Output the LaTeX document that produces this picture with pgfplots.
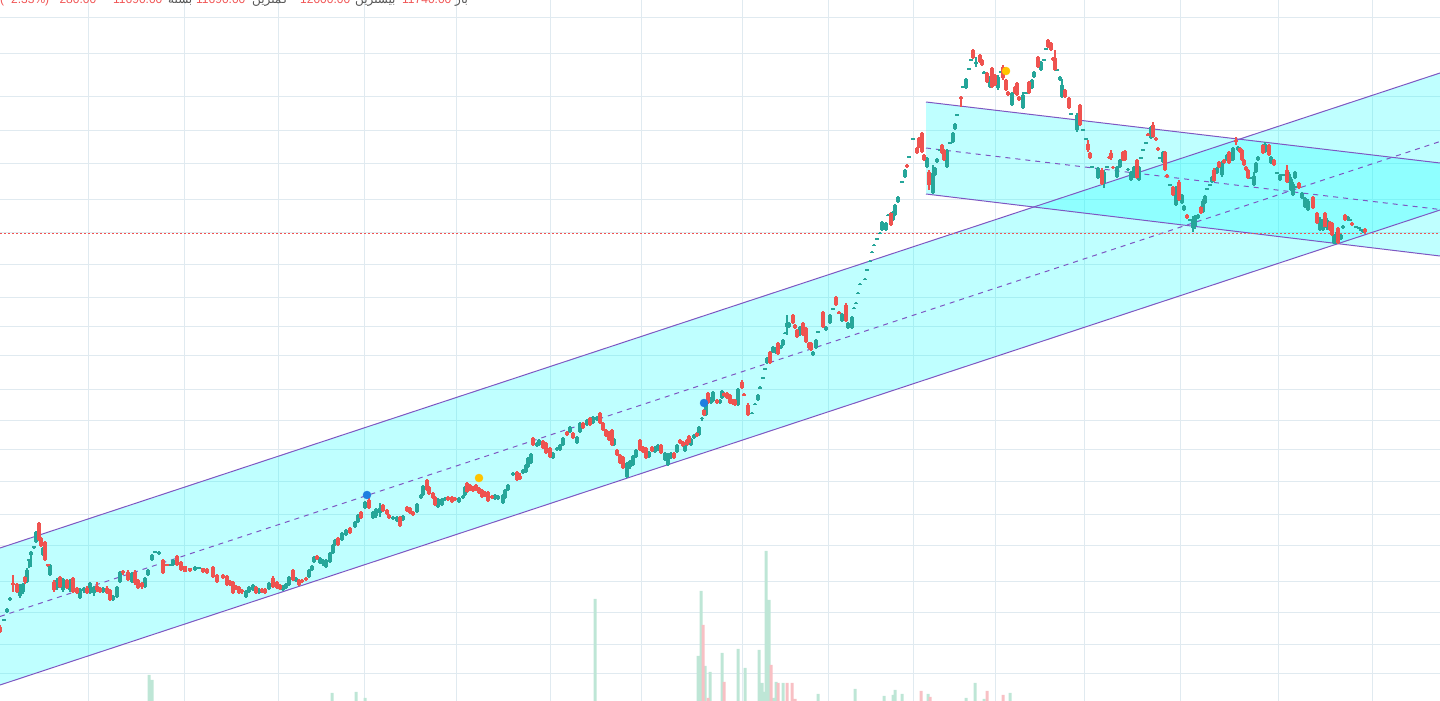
\documentclass[border=0pt]{standalone}
\usepackage{fontspec}
\usepackage{pgfplots}
\usepackage{pgfplotstable}
\pgfplotsset{compat=1.18}
\setmainfont{Liberation Sans}
\newfontfamily\fa[Script=Arabic]{DejaVu Sans}
\TeXXeTstate=1
\definecolor{upc}{RGB}{38,166,154}
\definecolor{dnc}{RGB}{239,83,80}
\definecolor{chan}{RGB}{126,87,194}
\definecolor{chfill}{RGB}{0,255,255}
\definecolor{gridc}{RGB}{224,234,240}
\definecolor{volup}{RGB}{190,230,214}
\definecolor{voldn}{RGB}{248,192,196}
\definecolor{dotblue}{RGB}{30,127,224}
\definecolor{dotyel}{RGB}{255,196,0}
\definecolor{txtred}{RGB}{240,84,84}
\definecolor{txtgray}{RGB}{85,85,85}

% candles: pixel coordinates (y measured downward)
\pgfplotstableread{
x o h l c
0 627 625 633 632
4 621 619 621 619
7 612 608 613 609
10 600 597 601 598
13 583 575 592 585
17 584 583 593 592
20 596 584 598 585
23 592 583 594 584
25 577 576 584 582
27 582 568 583 570
29 561 559 568 559
31 555 551 567 552
34 548 546 549 546
36 542 531 543 532
39 523 522 541 540
41 538 537 547 546
43 555 547 556 548
45 542 541 561 560
48 564 564 567 566
50 575 564 576 565
54 582 580 592 590
57 588 578 590 580
60 577 576 588 587
63 590 578 592 579
67 580 579 589 588
70 590 579 592 580
73 578 577 593 592
77 588 587 594 593
80 598 588 599 589
84 591 587 593 588
87 588 586 594 593
90 593 582 594 583
94 593 586 596 587
97 586 582 592 590
100 588 587 593 592
103 592 587 593 588
107 588 586 594 593
110 590 589 601 600
113 600 595 601 596
117 597 586 598 587
120 582 571 583 572
123 571 570 575 573
128 572 570 581 580
132 582 572 583 573
135 572 570 585 583
138 580 579 589 588
142 583 582 589 587
145 587 577 588 578
148 575 569 576 570
152 560 554 561 555
155 553 551 553 551
159 554 551 555 552
163 560 559 574 573
167 564 564 566 566
170 566 564 566 564
173 565 559 566 560
177 556 555 566 565
181 562 561 571 570
185 566 566 572 572
190 568 568 572 571
195 570 566 571 567
199 569 567 569 567
203 568 568 573 572
207 569 568 574 573
213 567 566 578 577
217 575 574 583 582
223 575 574 579 578
227 576 575 586 585
230 581 580 586 585
233 582 581 594 593
236 586 585 590 589
239 587 586 594 593
242 590 589 594 592
246 597 590 598 591
249 592 586 593 587
253 590 584 591 585
256 587 586 594 593
259 593 588 594 589
262 589 588 593 592
265 589 588 594 593
269 589 582 590 583
273 578 576 588 587
277 582 581 589 588
280 585 584 590 589
283 590 585 591 586
286 588 583 589 584
289 585 576 586 577
293 570 569 581 580
296 581 577 582 578
299 580 579 586 585
302 580 579 583 582
306 578 577 581 580
309 577 569 578 570
312 570 565 571 566
314 562 556 563 557
317 556 555 560 559
320 563 557 564 558
323 564 559 566 560
326 567 559 568 560
330 562 552 563 553
333 553 544 554 545
335 545 539 546 540
338 538 537 546 545
342 540 532 541 533
346 535 529 536 530
350 528 527 534 533
355 527 521 528 522
358 522 514 523 515
361 512 511 519 518
365 508 501 509 502
369 500 497 509 508
373 518 511 519 512
376 516 508 518 509
380 513 503 517 508
383 505 504 512 511
387 510 509 515 514
389 515 514 519 518
393 519 516 520 517
397 521 516 522 517
400 517 516 527 526
403 520 515 521 516
407 507 506 512 511
410 508 507 514 513
413 512 511 516 515
417 512 503 513 504
421 498 494 499 495
423 495 485 496 486
427 480 479 491 490
429 487 486 495 494
433 493 492 499 498
435 497 496 506 505
438 507 498 508 499
442 505 498 506 499
445 500 497 501 498
448 497 496 501 500
452 497 496 503 502
455 498 497 501 500
459 502 497 503 498
463 498 495 499 496
465 495 486 496 487
467 483 482 493 492
470 485 484 491 490
473 487 486 492 491
476 485 484 491 490
479 488 487 494 493
482 490 489 498 497
485 492 491 497 496
488 492 491 502 501
492 496 495 499 498
495 499 494 500 495
498 499 495 500 496
503 503 494 504 495
505 498 489 499 490
508 490 484 491 485
513 475 472 476 473
517 472 471 481 480
520 476 473 480 479
523 473 469 474 470
526 472 464 473 465
528 467 457 468 458
531 463 453 464 454
533 438 437 446 445
537 446 442 447 443
539 445 439 446 440
543 441 440 449 448
546 443 442 454 453
550 448 447 458 457
553 458 452 459 453
557 450 447 451 448
560 450 444 451 445
563 445 437 446 438
567 432 431 436 435
570 432 426 433 427
573 433 432 439 438
577 443 436 444 437
580 432 422 433 423
583 423 422 429 428
587 425 419 426 420
590 418 417 426 425
593 423 416 424 417
597 420 416 421 417
600 413 412 424 423
603 423 422 431 430
606 430 429 437 436
609 432 431 441 440
612 430 429 446 445
614 445 438 446 439
617 450 449 456 455
620 455 454 464 463
623 457 456 469 468
627 477 462 478 463
630 467 460 469 461
633 465 455 466 456
636 457 449 458 450
640 440 439 451 450
643 447 446 453 452
646 448 447 459 458
649 457 451 458 452
652 447 446 452 451
655 452 446 453 447
658 450 444 451 445
661 445 444 454 453
665 460 452 461 453
668 465 453 466 454
671 458 452 459 453
674 453 452 459 458
677 452 444 453 445
680 440 439 444 443
683 442 441 447 446
685 451 443 452 444
687 440 439 446 445
689 436 435 444 443
691 445 438 446 439
694 438 434 439 435
697 433 432 437 436
699 435 426 436 427
702 419 417 421 417.5
704 410 409 416 415
706 415 403 416 404
708 393 392 404 403
711 403 397 404 398
713 401 391 402 392
717 400 399 404 403
720 403 399 404 400
722 398 390 399 391
724 393 392 397 396
727 393 392 399 398
730 395 394 404 403
733 400 399 405 404
735 400 399 406 405
738 405 388 406 389
742 382 380 389 388
744 394 393 396 395.5
748 405 403 416 415
752 414 412 414 412.5
755 405 403 405 403.5
758 400 394 401 395
760 388.5 386 389 387
763 378.5 377 379 377
765 369.5 368 370 368
767 363 357 364 358
770 352 351 364 363
773 352 346 353 347
776 353 347 354 348
778 343 342 355 354
781 348 345 349 346
783 345 339 346 340
785 334 332 334 332.5
787 327 315 335 323
789 327 322 328 323
793 315 314 324 323
795 325 324 329 328
797 330 329 338 337
800 335 326 336 327
803 323 322 336 335
806 328 327 343 342
809 343 342 349 348
811 343 342 351 350
813 355 351 356 352
816 348 339 349 340
818 332.5 331 333 331
823 312 311 328 327
826 330 326 331 327
830 323 314 324 315
833 309.5 308 310 308
836 297 296 306 305
839 312 311 314 313
842 321 313 322 314
846 305 303 322 321
848 328 322 329 323
852 328 316 329 317
854 309 307 309 307.5
856 304 302 304 302.5
858 294 292 294 292.5
860 285 283 285 283.5
865 280 278 280 278.5
867 270.5 269 271 269
870 262 260 262 260.5
872 253 251 253 251.5
874 246 244 246 244.5
877 239.5 238 240 238
880 234 232 234 232.5
882 230 221 231 222
886 230 222 231 223
888 216 214 216 214.5
891 213 212 226 225
893 220 211 221 212
895 215 204 216 205
898 202 196 203 197
902 182.5 181 183 181
905 177 169 178 170
907 165 164 168 167
909 157.5 156 158 156
913 139.5 138 140 138
917 148 147 154 153
919 138 137 148 147
922 133 132 153 152
924 155 154 161 160
927 167 157 168 158
929 172 170 190 185
933 193 165 194 173
935 175 167 176 168
937 162 158 163 159
940 150.5 149 151 149
942 145 144 154 153
944 150 149 161 160
947 167 149 168 150
950 143.5 142 144 142
953 142 132 143 133
955 129 123 130 124
957 115.5 114 116 114
961 97 96 107 98.5
963 87.5 86 88 86
966 88 78 89 79
969 69.5 68 70 68
971 60.5 59 61 59
973 50 49 59 58
976 63.5 57 67 62
980 55 54 63 62
982 60 59 66 65
984 73.5 71 74 72
987 73 72 83 82
990 87 76 88 77
992 68 67 88 87
995 75 74 86 85
998 88 75 90 77
1001 72.5 71 73 71
1003 67 65 80 78
1006 80 79 91 90
1008 92 91 96 95
1012 105 92 106 93
1015 87 86 94 93
1017 83 82 96 95
1019 97 96 101 100
1023 108 92 109 95
1026 93.5 92 94 92
1029 82 81 94 93
1032 88 79 89 80
1034 77 71 78 72
1038 57 56 68 67
1041 70 61 71 62
1044 60.5 59 61 59
1046 49.5 48 50 48
1048 40 39 48 47
1051 43 42 51 50
1053 58 57 61 60
1055 58 50 71 70
1057 70.5 69 71 69
1060 80 76 81 77
1062 97 79 98 85
1065 90 89 98 97
1069 98 97 109 108
1071 114.5 113 115 113
1077 130 113 132 115
1080 105 104 126 125
1083 130.5 129 131 129
1086 139.5 138 140 138
1088 144 140 152 150
1090 153 152 159 158
1092 167.5 166 168 166
1098 178 167 179 168
1102 170 168 185 184
1104 183 170 188 172
1107 167.5 166 168 166
1109 156.5 156 159 158
1111 153 150 160 158
1113 166.5 166 169 168
1117 177 166 178 167
1120 167 159 168 160
1123 152 151 161 160
1125 151 150 161 160
1128 170 168 171 168.5
1131 180 171 181 172
1134 177 166 178 167
1137 160 159 179 178
1139 180 166 181 167
1141 158.5 157 159 157
1143 150.5 149 151 149
1146 143.5 142 144 142
1148 134 133 136 135.5
1151 138 126 139 127
1153 125 122 138 137
1156 138 137 141 140
1158 148 147 151 150
1160 158.5 157 159 157
1163 162 151 163 152
1165 152 151 171 170
1167 175 174 178 177
1170 185.5 184 186 184
1173 187 186 196 195
1176 205 186 206 188
1179 182 180 201 200
1182 203 194 204 195
1184 210 205 211 206
1187 215 214 219 218
1190 220.5 219 221 219
1193 228 216 232 220
1195 226 215 229 217
1198 218 214 219 215
1201 207 206 214 213
1203 212 199 213 201
1205 203 195 204 196
1207 189.5 188 190 188
1210 185.5 184 186 184
1212 182 176 183 177
1214 170 168 182 181
1217 173 167 174 168
1219 162 161 168 167
1222 175 161 177 163
1224 160 159 164 163
1227 160 154 161 155
1229 152 151 164 163
1231 160.5 159 161 159
1233 160 147 161 148
1236 140 137 145 142
1238 150 146 151 147
1240 148 147 153 152
1242 150 149 161 160
1244 160 159 166 165
1246 167 166 171 170
1248 170 169 179 178
1251 178.5 177 179 177
1254 185 172 186 176
1256 172 162 173 163
1258 160 156 161 157
1263 145 144 154 153
1265 152 142 153 144
1269 145 144 156 155
1271 163 156 164 157
1274 160 159 166 165
1277 173.5 172 174 172
1280 180 174 181 175
1283 175.5 174 176 174
1287 170 165 183 182
1289 182 172 183 174
1291 190 177 191 179
1293 195 182 196 184
1295 178 171 179 172
1297 187.5 186 188 186
1299 183 182 189 188
1302 198 192 199 193
1305 207 197 208 198
1308 210 199 211 201
1313 197 196 209 208
1317 213 212 224 223
1320 230 217 231 219
1323 230 219 231 221
1325 213 212 228 227
1327 228 218 230 220
1330 222 221 231 230
1332 223 222 236 235
1334 243 234 244 236
1336 243 232 244 234
1338 228 227 244 243
1341 239 234 240 235
1343 228 225 229 226
1345 215 214 221 220
1348 220 216 221 217
1350 220.5 219 221 219
1352 223 222 226 225
1356 227.5 226 228 226
1359 228.5 227 229 227
1361 230.5 229 231 229
1363 232 229 233 230
1365 229 228 234 232
}\candles

\pgfplotsset{
  candle/.style n args={3}{draw=none, mark=none, forget plot,
    restrict expr to domain={\thisrow{o}-\thisrow{c}}{#1},
    error bars/.cd, y dir=both, y explicit, error mark=none,
    error bar style={draw=#2, line width=#3, solid}},
}

\begin{document}
\begin{tikzpicture}
\begin{axis}[
  at={(0,0)}, anchor=south west,
  width=1440pt, height=701pt, scale only axis,
  xmin=0, xmax=1440, ymin=0, ymax=701, y dir=reverse,
  axis line style={draw=none},
  xtick={88,184,278,364,456,550,641,742,828,913,995,1084,1180,1278,1372},
  ytick={18,54,96,130,163,199,232,264,297,326,355,389,420,449,481,514,545,581,612,644,673},
  xticklabels={}, yticklabels={},
  major tick length=0pt,
  grid=major, major grid style={draw=gridc, line width=1pt},
]
% ascending channel
\addplot[fill=chfill, fill opacity=0.25, draw=none] coordinates {(0,548) (1440,73) (1440,210) (0,685) (0,548)};
% descending channel
\addplot[fill=chfill, fill opacity=0.25, draw=none] coordinates {(926,102) (1440,163) (1440,256) (926,194) (926,102)};
\addplot[chan, line width=1pt] coordinates {(0,548) (1440,73)};
\addplot[chan, line width=1pt] coordinates {(0,685) (1440,210)};
\addplot[chan, line width=1pt, dash pattern=on 5pt off 5pt] coordinates {(0,616.5) (1440,141.5)};
\addplot[chan, line width=1pt] coordinates {(926,102) (1440,163)};
\addplot[chan, line width=1pt] coordinates {(926,194) (1440,256)};
\addplot[chan, line width=1pt, dash pattern=on 5pt off 5pt] coordinates {(926,148) (1440,209.5)};
% last price line
\addplot[txtred, line width=0.9pt, dash pattern=on 2pt off 2pt] coordinates {(0,233) (1440,233)};
% wicks
\addplot[candle={0:2000}{upc}{1.1pt}]
  table[x=x, y expr={(\thisrow{h}+\thisrow{l})/2}, y error expr={(\thisrow{l}-\thisrow{h})/2}] {\candles};
\addplot[candle={-2000:-0.01}{dnc}{1.1pt}]
  table[x=x, y expr={(\thisrow{h}+\thisrow{l})/2}, y error expr={(\thisrow{l}-\thisrow{h})/2}] {\candles};
% bodies
\addplot[candle={0:2000}{upc}{3.6pt}]
  table[x=x, y expr={(\thisrow{o}+\thisrow{c})/2}, y error expr={(\thisrow{o}-\thisrow{c})/2}] {\candles};
\addplot[candle={-2000:-0.01}{dnc}{3.6pt}]
  table[x=x, y expr={(\thisrow{o}+\thisrow{c})/2}, y error expr={(\thisrow{c}-\thisrow{o})/2}] {\candles};
% event dots
\addplot[only marks, mark=*, mark size=4pt, mark options={fill=dotblue, draw=dotblue}] coordinates {(367,495) (704,403)};
\addplot[only marks, mark=*, mark size=4pt, mark options={fill=dotyel, draw=dotyel}] coordinates {(479,478) (1006,71)};
\end{axis}

% volume
\begin{axis}[
  at={(0,0)}, anchor=south west,
  width=1440pt, height=701pt, scale only axis,
  xmin=0, xmax=1440, ymin=0, ymax=701, hide axis,
  ybar, bar width=3pt, bar shift=0pt,
]
\addplot[fill=volup, draw=none] coordinates {
(149,26) (152,21) (332,8) (356,9) (365,3) (595,102) (698,45) (701,110) (705,35) (710,29)
(722,48) (738,52) (745,33) (759,51) (762,18) (764,9) (766,150) (769,101) (773,3) (776,19)
(783,18) (818,7) (855,12) (884,5) (893,6) (895,11) (902,7) (928,7) (966,3) (975,18) (984,2) (1010,8)};
\addplot[fill=voldn, draw=none] coordinates {
(703,76) (708,3) (724,19) (771,36) (778,18) (787,18) (792,18) (795,2) (921,10) (930,4) (987,10) (1003,6)};
\end{axis}

% header (cut by the top edge, as in the reference)
\begin{scope}[every node/.style={anchor=base west, inner sep=0pt, font=\fontsize{12}{14}\selectfont}]
\node[text=txtred] at (0pt,697pt) {(−2.33\%) −280.00};
\node[text=txtred] at (113pt,697pt) {11690.00};
\node[text=txtgray] at (168pt,697pt) {\fa\beginR بسته\endR};
\node[text=txtred] at (196pt,697pt) {11690.00};
\node[text=txtgray] at (252pt,697pt) {\fa\beginR کمترین\endR};
\node[text=txtred] at (300pt,697pt) {12000.00};
\node[text=txtgray] at (355pt,697pt) {\fa\beginR بیشترین\endR};
\node[text=txtred] at (402pt,697pt) {11740.00};
\node[text=txtgray] at (455pt,697pt) {\fa\beginR باز\endR};
\end{scope}

\pgfresetboundingbox
\path[use as bounding box] (0,0) rectangle (1440pt,701pt);
\end{tikzpicture}
\end{document}
